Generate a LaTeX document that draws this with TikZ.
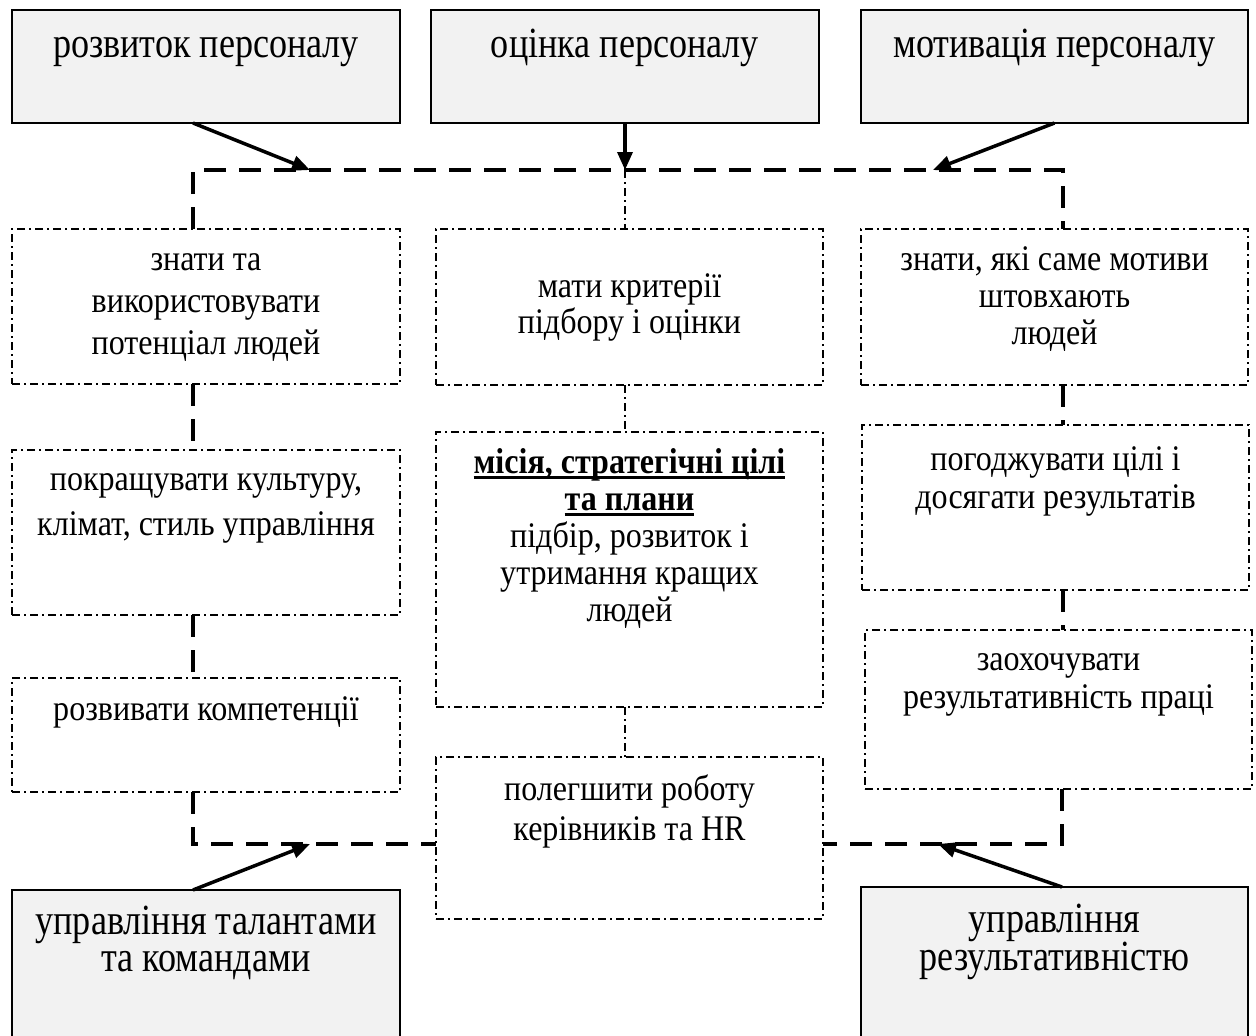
\documentclass[tikz,border=0pt]{standalone}
\usepackage{fontspec}
\setmainfont{Liberation Serif}
% tall, slightly condensed faces for the box texts
\newfontfamily\headfont[FakeStretch=0.84]{Liberation Serif}
\newfontfamily\cellfont[FakeStretch=0.89]{Liberation Serif}
\usetikzlibrary{arrows.meta}

\definecolor{boxgray}{HTML}{F2F2F2}

% body of a box: fixed size, text hung from the top edge
\newcommand\cellbody[4]{\parbox[c][#2][t]{#1}{\lineskiplimit=-\maxdimen\centering\rule{0pt}{#3}#4\par}}
% bold line with a heavy rule under it
\newsavebox\headbox
\newcommand\headline[1]{\leavevmode\sbox\headbox{\bfseries #1}\rlap{\rule[-6pt]{\wd\headbox}{2.6pt}}\usebox\headbox}

\tikzset{
  x=1pt, y=-1pt,
  headbox/.style={draw, line width=1.1pt, fill=boxgray, anchor=north west,
    inner sep=0pt, outer sep=0pt, font=\headfont\fontsize{43}{37}\selectfont},
  cellbox/.style={draw, line width=1.2pt, dash pattern=on 8pt off 4pt on 2pt off 4pt,
    anchor=north west, inner sep=0pt, outer sep=0pt, font=\cellfont\fontsize{36}{37}\selectfont},
  linkdash/.style={line width=4pt, dash pattern=on 22pt off 13pt},
  linkdot/.style={line width=1.2pt, dash pattern=on 8pt off 4pt on 2pt off 4pt},
  feed/.style={line width=3.5pt, -{Triangle[length=18pt,width=15pt]}},
}

\begin{document}
\begin{tikzpicture}
\useasboundingbox (0,0) rectangle (1256,1036);
\clip (0,0) rectangle (1256,1036);

% corners and arrow targets of the dashed frame
\coordinate (ftl) at (193,170);
\coordinate (ftr) at (1063,170);
\coordinate (fbl) at (193,844);
\coordinate (fbr) at (1062,844);
\coordinate (tipT1) at (310,170);
\coordinate (tipT2) at (625,170);
\coordinate (tipT3) at (933,170);
\coordinate (tipB1) at (310,844);
\coordinate (tipB3) at (938,844);

% the five outer areas
\node[headbox] (TL) at (12,10)  {\cellbody{388pt}{113pt}{47pt}{розвиток персоналу}};
\node[headbox] (TM) at (431,10) {\cellbody{388pt}{113pt}{47pt}{оцінка персоналу}};
\node[headbox] (TR) at (861,10) {\cellbody{387pt}{113pt}{47pt}{мотивація персоналу}};
\node[headbox] (BL) at (12,890) {\cellbody{388pt}{170pt}{44pt}{управління талантами\\та командами}};
\node[headbox, font=\headfont\fontsize{43}{38}\selectfont] (BR) at (861,887) {\cellbody{387pt}{170pt}{45pt}{управління\\результативністю}};

% left column
\node[cellbox, font=\cellfont\fontsize{36}{42}\selectfont] (L1) at (12,229)
  {\cellbody{388pt}{155pt}{41pt}{знати та\\використовувати\\потенціал людей}};
\node[cellbox, font=\cellfont\fontsize{36}{45}\selectfont] (L2) at (12,450)
  {\cellbody{388pt}{165pt}{40pt}{покращувати культуру,\\клімат, стиль управління}};
\node[cellbox] (L3) at (12,678)
  {\cellbody{388pt}{114pt}{42pt}{розвивати компетенції}};

% middle column
\node[cellbox, font=\cellfont\fontsize{36}{36}\selectfont] (M1) at (436,229)
  {\cellbody{387pt}{156pt}{68pt}{мати критерії\\підбору і оцінки}};
\node[cellbox] (M2) at (436,432)
  {\cellbody{387pt}{275pt}{41pt}{\headline{місія, стратегічні цілі}\\\headline{та плани}\\підбір, розвиток і\\утримання кращих\\людей}};
\node[cellbox, font=\cellfont\fontsize{36}{40}\selectfont] (M3) at (436,757)
  {\cellbody{387pt}{162pt}{43pt}{полегшити роботу\\керівників та HR}};

% right column
\node[cellbox] (R1) at (861,229)
  {\cellbody{387pt}{156pt}{41pt}{знати, які саме мотиви\\штовхають\\людей}};
\node[cellbox, font=\cellfont\fontsize{36}{38}\selectfont] (R2) at (862,425)
  {\cellbody{387pt}{165pt}{45pt}{погоджувати цілі і\\досягати результатів}};
\node[cellbox, font=\cellfont\fontsize{36}{38}\selectfont] (R3) at (865,630)
  {\cellbody{387pt}{159pt}{40pt}{заохочувати\\результативність праці}};

% dashed frame round the centre
\draw[linkdash] (L1.north -| ftl) -- (ftl) -- (ftr) -- (R1.north -| ftr);
\draw[linkdash] (L1.south -| ftl) -- (L2.north -| ftl);
\draw[linkdash] (L2.south -| ftl) -- (L3.north -| ftl);
\draw[linkdash] (L3.south -| fbl) -- (fbl) -- (M3.west |- fbl);
\draw[linkdash] (R1.south -| ftr) -- (R2.north -| ftr);
\draw[linkdash] (R2.south -| ftr) -- (R3.north -| ftr);
\draw[linkdash] (R3.south -| fbr) -- (fbr) -- (M3.east |- fbr);

% dash-dot links of the middle column
\draw[linkdot] (tipT2) -- (M1.north -| tipT2);
\draw[linkdot] (M1.south -| tipT2) -- (M2.north -| tipT2);
\draw[linkdot] (M2.south -| tipT2) -- (M3.north -| tipT2);

% arrows from the outer areas
\draw[feed] (TL.south -| ftl) -- (tipT1);
\draw[feed] (TM.south -| tipT2) -- (tipT2);
\draw[feed] (TR.south) -- (tipT3);
\draw[feed] (BL.north -| fbl) -- (tipB1);
\draw[feed] (BR.north -| fbr) -- (tipB3);
\end{tikzpicture}
\end{document}
